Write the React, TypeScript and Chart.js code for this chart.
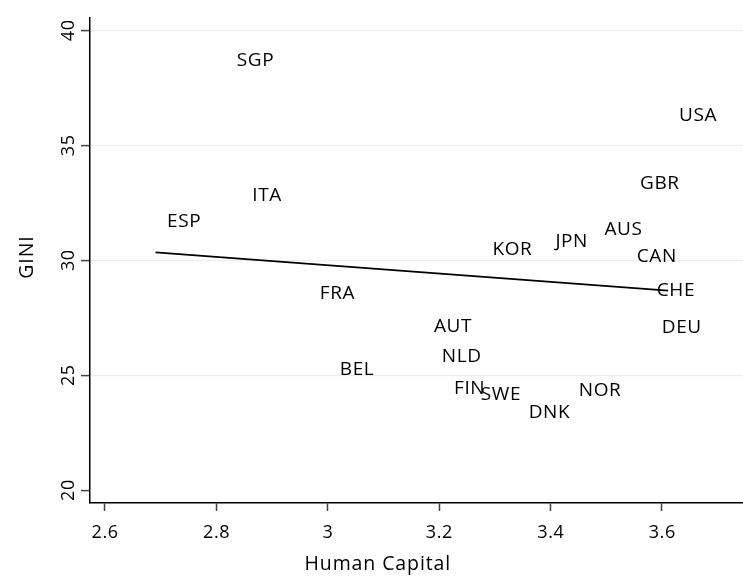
import React, { useEffect, useRef } from "react";
import { Chart, registerables } from "chart.js";

Chart.register(...registerables);

// ---- data ----
const countries = ["SGP", "ITA", "ESP", "FRA", "BEL", "AUT", "NLD", "FIN", "SWE", "DNK", "NOR", "KOR", "JPN", "AUS", "CAN", "GBR", "USA", "CHE", "DEU"];
const humanCapital = [2.817, 2.845, 2.692, 2.966, 3.002, 3.171, 3.185, 3.207, 3.255, 3.341, 3.431, 3.276, 3.389, 3.477, 3.535, 3.541, 3.611, 3.571, 3.58];
const gini = [38.77, 32.89, 31.73, 28.61, 25.32, 27.17, 25.87, 24.48, 24.23, 23.43, 24.38, 30.51, 30.87, 31.41, 30.22, 33.39, 36.38, 28.76, 27.13];
const fitX = [2.691, 3.611];
const fitY = [30.35, 28.69];
const xTicks = [2.6, 2.8, 3.0, 3.2, 3.4, 3.6];
const xTickLabels = ["2.6", "2.8", "3", "3.2", "3.4", "3.6"];
const yTicks = [20, 25, 30, 35, 40];
const yTickLabels = ["20", "25", "30", "35", "40"];
const yGridTicks = [25, 30, 35, 40];
const xTitle = "Human Capital";
const yTitle = "GINI";

const FONT = '"Open Sans", "Noto Sans", sans-serif';

function setSpacing(ctx: any, px: number) {
  if ("letterSpacing" in ctx) ctx.letterSpacing = `${px}px`;
}

const LABEL_SIZE = 19;

const textPlugin = {
  id: "stataText",
  afterDatasetsDraw(chart: any) {
    const ctx = chart.ctx;
    const meta = chart.getDatasetMeta(0);
    ctx.save();
    ctx.fillStyle = "#000";
    ctx.font = `${LABEL_SIZE}px ${FONT}`;
    setSpacing(ctx, 0.6);
    ctx.textAlign = "left";
    ctx.textBaseline = "alphabetic";
    meta.data.forEach((el: any, i: number) => {
      ctx.fillText(countries[i], el.x + 11, el.y + 0.35 * LABEL_SIZE);
    });
    ctx.restore();
  },
  afterDraw(chart: any) {
    const ctx = chart.ctx;
    const xs = chart.scales.x;
    const ys = chart.scales.y;
    const area = chart.chartArea;
    ctx.save();
    ctx.fillStyle = "#000";
    // x tick labels
    ctx.font = `18px ${FONT}`;
    const tsp = 0.6;
    setSpacing(ctx, tsp);
    ctx.textAlign = "center";
    ctx.textBaseline = "alphabetic";
    xTicks.forEach((v, i) => {
      ctx.fillText(xTickLabels[i], xs.getPixelForValue(v) + tsp / 2, 537.5);
    });
    // y tick labels (rotated)
    yTicks.forEach((v, i) => {
      const py = ys.getPixelForValue(v);
      ctx.save();
      ctx.translate(73.5, py);
      ctx.rotate(-Math.PI / 2);
      ctx.fillText(yTickLabels[i], tsp / 2, 0);
      ctx.restore();
    });
    // axis titles
    ctx.font = `19.5px ${FONT}`;
    const asp = 0.9;
    setSpacing(ctx, asp);
    ctx.fillText(xTitle, 377.4 + asp / 2, 569.5);
    ctx.save();
    ctx.translate(33, (area.top + area.bottom) / 2 - 3);
    ctx.rotate(-Math.PI / 2);
    ctx.fillText(yTitle, asp / 2, 0);
    ctx.restore();
    ctx.restore();
  },
};

export default function App() {
  const ref = useRef<HTMLCanvasElement | null>(null);
  useEffect(() => {
    if (!ref.current) return;
    const chart = new Chart(ref.current, {
      type: "scatter",
      data: {
        datasets: [
          {
            data: humanCapital.map((x, i) => ({ x, y: gini[i] })),
            pointRadius: 0,
            pointHoverRadius: 0,
            backgroundColor: "rgba(0,0,0,0)",
            borderColor: "rgba(0,0,0,0)",
          },
          {
            data: fitX.map((x, i) => ({ x, y: fitY[i] })),
            showLine: true,
            borderColor: "#000",
            borderWidth: 1.8,
            pointRadius: 0,
            pointHoverRadius: 0,
            fill: false,
          },
        ],
      },
      options: {
        responsive: false,
        animation: false,
        events: [],
        layout: { padding: { top: 18, right: 0, left: 0, bottom: 0 } },
        plugins: { legend: { display: false }, tooltip: { enabled: false } },
        scales: {
          x: {
            type: "linear",
            min: 2.5734,
            max: 3.7455,
            afterBuildTicks: (s: any) => {
              s.ticks = xTicks.map((v) => ({ value: v }));
            },
            afterFit: (s: any) => {
              s.height = 74;
            },
            ticks: { display: false },
            grid: {
              drawOnChartArea: false,
              drawTicks: true,
              tickLength: 8,
              tickColor: "#444",
              tickWidth: 1.5,
            },
            border: { display: true, color: "#000", width: 1.5 },
          },
          y: {
            type: "linear",
            min: 19.45,
            max: 40.55,
            afterBuildTicks: (s: any) => {
              s.ticks = yTicks.map((v) => ({ value: v }));
            },
            afterFit: (s: any) => {
              s.width = 90;
            },
            ticks: { display: false },
            grid: {
              drawOnChartArea: true,
              drawTicks: true,
              tickLength: 9,
              tickColor: "#444",
              tickWidth: 1.5,
              lineWidth: 1.2,
              color: (c: any) =>
                c.tick && yGridTicks.includes(c.tick.value) ? "#e9eff4" : "rgba(0,0,0,0)",
            },
            border: { display: true, color: "#000", width: 1.5 },
          },
        },
      },
      plugins: [textPlugin],
    } as any);
    if ((document as any).fonts && (document as any).fonts.load) {
      (document as any).fonts.load(`18px "Open Sans"`).then(() => {
        try { chart.draw(); } catch (e) {}
      });
    }
    return () => chart.destroy();
  }, []);
  return (
    <div style={{ position: "fixed", left: 0, top: 0, width: 743, height: 577, background: "#fff" }}>
      <canvas ref={ref} width={743} height={577} style={{ display: "block", width: 743, height: 577 }} />
    </div>
  );
}
